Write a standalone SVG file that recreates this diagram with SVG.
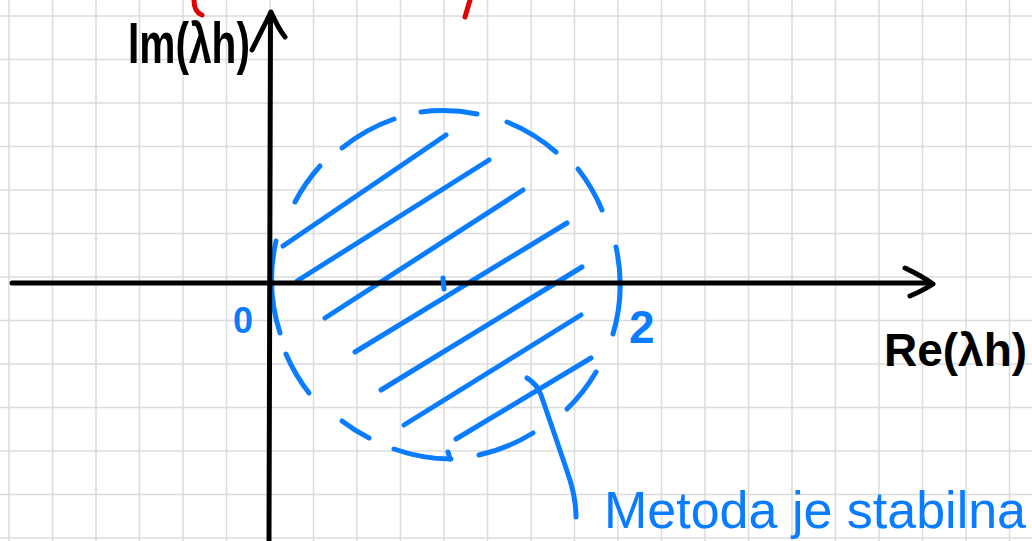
<svg xmlns="http://www.w3.org/2000/svg" width="1032" height="541" viewBox="0 0 1032 541">
<style>
.grid{stroke:#dcdcdc;stroke-width:1.5;fill:none}
.ink{stroke:#000;stroke-width:5;fill:none;stroke-linecap:round;stroke-linejoin:round}
.blue{stroke:#0a7cff;stroke-width:5;fill:none;stroke-linecap:round;stroke-linejoin:round}
.red{stroke:#e00000;stroke-width:5;fill:none;stroke-linecap:round}
.lblk{font-family:"Liberation Sans",Arial,sans-serif;font-weight:bold;fill:#000}
.lblu{font-family:"Liberation Sans",Arial,sans-serif;fill:#0a7cff}
</style>
<rect width="1032" height="541" fill="#fff"/>
<g id="grid">
<path class="grid" d="M9,0V541M52.5,0V541M96,0V541M139.5,0V541M183,0V541M226.5,0V541M270,0V541M313.5,0V541M357,0V541M400.5,0V541M444,0V541M487.5,0V541M531,0V541M574.5,0V541M618,0V541M661.5,0V541M705,0V541M748.5,0V541M792,0V541M835.5,0V541M879,0V541M922.5,0V541M966,0V541M1009.5,0V541"/>
<path class="grid" d="M0,16H1032M0,59.5H1032M0,103H1032M0,146.5H1032M0,190H1032M0,233.5H1032M0,277H1032M0,320.5H1032M0,364H1032M0,407.5H1032M0,451H1032M0,494.5H1032M0,538H1032"/>
</g>
<g id="red-marks">
<path class="red" d="M194,0 Q194,12 202,15"/>
<path class="red" d="M470,0 L465,17" stroke-width="6"/>
</g>
<g id="region">
<g id="dashed-circle">
<path class="blue" d="M421,112 A174,174 0 0 1 477,114"/>
<path class="blue" d="M507,122 A174,174 0 0 1 556,152"/>
<path class="blue" d="M578,169 A174,174 0 0 1 602,210"/>
<path class="blue" d="M616,247 A174,174 0 0 1 613,334"/>
<path class="blue" d="M596,372 A174,174 0 0 1 567,409"/>
<path class="blue" d="M533,433 A174,174 0 0 1 479,455"/>
<path class="blue" d="M451,459 A174,174 0 0 1 394,449"/>
<path class="blue" d="M448,452 L450,459"/>
<path class="blue" d="M369,438 A174,174 0 0 1 342,421"/>
<path class="blue" d="M309,393 A174,174 0 0 1 286,354"/>
<path class="blue" d="M280,333 A174,174 0 0 1 276,241"/>
<path class="blue" d="M295,202 A174,174 0 0 1 320,166"/>
<path class="blue" d="M342,148 A174,174 0 0 1 394,119"/>
</g>
<g id="hatching">
<path class="blue" d="M283,246 L446,135"/>
<path class="blue" d="M297,281 L489,160"/>
<path class="blue" d="M325,318 L523,190"/>
<path class="blue" d="M355,352 L567,223"/>
<path class="blue" d="M381,390 L582,267"/>
<path class="blue" d="M404,425 L581,315"/>
<path class="blue" d="M456,439 L591,358"/>
</g>
</g>
<g id="axes">
<path class="ink" d="M12,283 L930,283"/>
<path class="ink" d="M905,268 Q922,276 933,284 Q924,290 910,296"/>
<path class="ink" d="M269,541 L270.5,13"/>
<path class="ink" d="M252,50 L271,12 Q278,28 285,37"/>
<path class="blue" d="M443,278 L444,289"/>
</g>
<g id="labels">
<text class="lblk" x="128" y="63" font-size="58" textLength="122" lengthAdjust="spacingAndGlyphs">Im(λh)</text>
<text class="lblk" x="884" y="366" font-size="46">Re(λh)</text>
<text class="lblu" x="233" y="333" font-size="36" font-weight="bold">0</text>
<text class="lblu" x="629" y="343" font-size="46" font-weight="bold">2</text>
</g>
<g id="connectors">
<path class="blue" d="M527,378 Q537,384 541,395 Q560,450 570,480 Q576,500 576,517"/>
</g>
<g id="annotation">
<text class="lblu" x="604" y="528" font-size="52">Metoda je stabilna</text>
</g>
</svg>
